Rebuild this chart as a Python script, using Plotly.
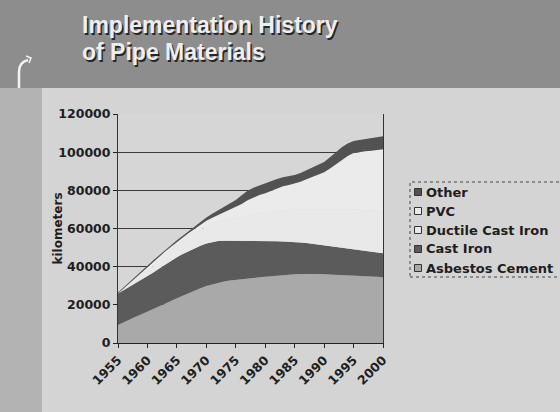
import plotly.graph_objects as go

# ---------------- data (kilometres) ----------------
years = list(range(1955, 2001))
tick_years = [1955, 1960, 1965, 1970, 1975, 1980, 1985, 1990, 1995, 2000]
tick_labels = [str(y) for y in tick_years]
y_ticks = [0, 20000, 40000, 60000, 80000, 100000, 120000]

asbestos_cement = [9400, 11000, 12400, 13800, 15100, 16400, 17800, 19200, 20600, 22000,
                   23400, 24800, 26100, 27400, 28700, 29900, 30800, 31600, 32200, 32700,
                   33100, 33500, 33800, 34100, 34400, 34700, 35000, 35300, 35600, 35800,
                   36000, 36100, 36200, 36200, 36100, 36000, 35900, 35800, 35700, 35600,
                   35500, 35300, 35100, 34900, 34700, 34500]
cast_iron = [16600, 16800, 17200, 17500, 17900, 18300, 19100, 19800, 20500, 21100,
             21600, 21900, 22100, 22200, 22300, 22300, 22200, 21800, 21400, 20900,
             20500, 20100, 19800, 19500, 19100, 18800, 18400, 18000, 17600, 17300,
             17000, 16600, 16200, 15800, 15400, 15000, 14700, 14400, 14100, 13800,
             13500, 13300, 13100, 12900, 12700, 12500]
ductile_cast_iron = [0, 500, 1100, 1800, 2400, 3000, 3500, 4200, 4800, 5300,
                     6000, 6600, 7100, 7800, 8400, 9000, 9500, 10200, 10900, 11400,
                     12000, 12500, 13200, 13800, 14300, 15000, 15400, 15900, 16200, 16600,
                     17000, 17300, 17800, 18200, 18600, 19000, 19400, 19800, 20200, 20600,
                     21000, 21200, 21400, 21600, 21800, 22000]
pvc = [0, 500, 900, 1300, 1800, 2300, 2300, 2100, 2000, 2100,
       2000, 2000, 2300, 2400, 2600, 2800, 3100, 3400, 3800, 4600,
       5400, 6700, 8000, 8900, 9700, 10000, 11000, 12000, 12800, 13100,
       13500, 14500, 15600, 16800, 18100, 19500, 21500, 23800, 26000, 28000,
       29500, 30300, 30900, 31400, 31900, 32500]
other = [500, 600, 600, 600, 700, 700, 700, 700, 800, 800,
         800, 900, 1000, 1200, 1400, 1700, 2100, 2500, 3000, 3500,
         4000, 4600, 5000, 5100, 5100, 5000, 4900, 4800, 4600, 4500,
         4500, 4600, 4800, 5000, 5200, 5400, 5800, 6200, 6600, 6600,
         6400, 6300, 6300, 6400, 6500, 6800]

series = [
    ("Asbestos Cement", asbestos_cement, "#a9a9a9"),
    ("Cast Iron", cast_iron, "#5b5b5b"),
    ("Ductile Cast Iron", ductile_cast_iron, "#e9e9e9"),
    ("PVC", pvc, "#ebebeb"),
    ("Other", other, "#525252"),
]

# ---------------- geometry helpers (pixel -> paper) ----------------
W, H = 560, 412
L, R, T, B = 118, 383, 114, 343


def px(x):
    return (x - L) / (R - L)


def py(y):
    return (B - y) / (B - T)


fig = go.Figure()
for name, vals, col in series:
    fig.add_trace(go.Scatter(
        x=years, y=vals, name=name, mode="lines", stackgroup="one",
        line=dict(width=0, color=col), fillcolor=col, showlegend=False,
        hovertemplate=name + " %{x}: %{y}<extra></extra>"))

shapes = []
# header band and left strip
shapes.append(dict(type="rect", xref="paper", yref="paper", x0=px(0), x1=px(W),
                   y0=py(88), y1=py(0), fillcolor="#8d8d8d", line=dict(width=0), layer="below"))
shapes.append(dict(type="rect", xref="paper", yref="paper", x0=px(0), x1=px(42),
                   y0=py(H), y1=py(88), fillcolor="#b3b3b3", line=dict(width=0), layer="below"))
# pipe icon
shapes.append(dict(type="path", xref="paper", yref="paper",
                   path=f"M {px(19)},{py(88)} L {px(19)},{py(72)} Q {px(19)},{py(62)} {px(28)},{py(60)}",
                   line=dict(color="#f2f2f2", width=2.5)))
shapes.append(dict(type="path", xref="paper", yref="paper",
                   path=f"M {px(26)},{py(56)} L {px(31)},{py(58)} L {px(29)},{py(63)}",
                   line=dict(color="#f2f2f2", width=1.5)))

annotations = []
# title (light text with dark shadow)
for i, line in enumerate(["Implementation History", "of Pipe Materials"]):
    ycen = 25 + i * 27
    annotations.append(dict(xref="paper", yref="paper", x=px(80), y=py(ycen),
                            xanchor="left", yanchor="middle", showarrow=False, text=line,
                            font=dict(family="Liberation Sans", size=23, color="#eeeeee",
                                      weight="bold", shadow="1.5px 1.5px 0px #262626")))

# y-axis title
annotations.append(dict(xref="paper", yref="paper", x=px(57), y=py(228.5), textangle=-90,
                        xanchor="center", yanchor="middle", showarrow=False, text="kilometers",
                        font=dict(family="DejaVu Sans", size=12, color="#1e1e1e", weight="bold")))

# legend (drawn as box, swatches and text)
shapes.append(dict(type="rect", xref="paper", yref="paper", x0=px(410), x1=px(563),
                   y0=py(277), y1=py(182), fillcolor="rgba(0,0,0,0)",
                   line=dict(color="#444444", width=1, dash="dot")))
legend_order = [series[4], series[3], series[2], series[1], series[0]]
for k, (name, vals, col) in enumerate(legend_order):
    yc = 192 + k * 19
    shapes.append(dict(type="rect", xref="paper", yref="paper", x0=px(414.5), x1=px(421.5),
                       y0=py(yc + 3.5), y1=py(yc - 3.5), fillcolor=col,
                       line=dict(color="#333333", width=1)))
    annotations.append(dict(xref="paper", yref="paper", x=px(424), y=py(yc),
                            xanchor="left", yanchor="middle", showarrow=False, text=name,
                            font=dict(family="DejaVu Sans", size=13, color="#1e1e1e", weight="bold")))

fig.update_layout(
    width=W, height=H,
    margin=dict(l=L, r=W - R, t=T, b=H - B, pad=0),
    paper_bgcolor="#d4d4d4", plot_bgcolor="#d6d6d6",
    shapes=shapes, annotations=annotations, showlegend=False,
    xaxis=dict(range=[1955, 2000], tickmode="array", tickvals=tick_years, ticktext=tick_labels,
               tickangle=-45, ticks="outside", ticklen=4, tickcolor="#222222",
               showline=True, linecolor="#222222", linewidth=1, showgrid=False, zeroline=False,
               tickfont=dict(family="DejaVu Sans", size=12.5, color="#1e1e1e", weight="bold")),
    yaxis=dict(range=[0, 120000], tickmode="array", tickvals=y_ticks,
               ticktext=[str(v) for v in y_ticks],
               ticks="outside", ticklen=4, tickcolor="#222222",
               showline=True, mirror=True, linecolor="#333333", linewidth=1,
               showgrid=True, gridcolor="#3a3a3a", gridwidth=1, zeroline=False,
               tickfont=dict(family="DejaVu Sans", size=12.5, color="#1e1e1e", weight="bold")),
)

fig.write_html("out.html")
